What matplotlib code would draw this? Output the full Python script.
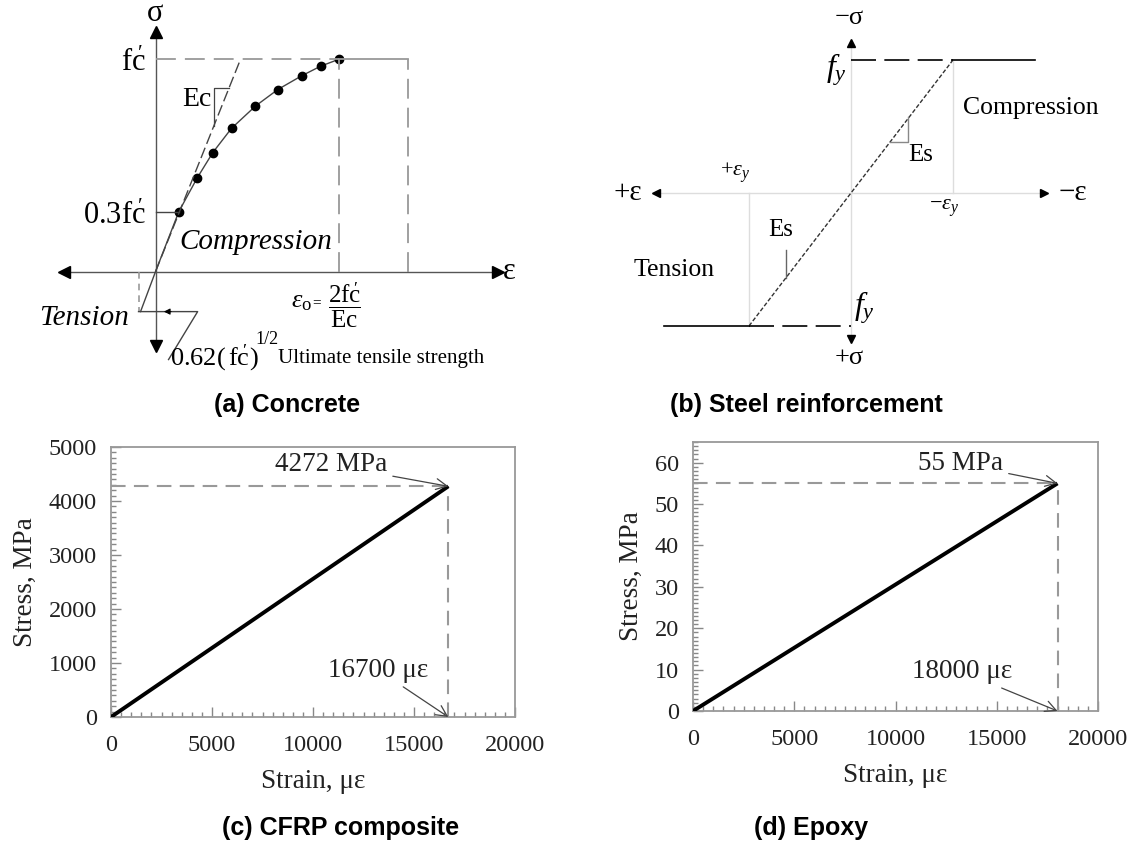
import matplotlib
matplotlib.use("Agg")
import matplotlib.pyplot as plt
from matplotlib.ticker import MultipleLocator

plt.rcParams['font.family'] = ['Liberation Serif', 'DejaVu Serif']
plt.rcParams['mathtext.fontset'] = 'custom'
plt.rcParams['mathtext.rm'] = 'Liberation Serif'
plt.rcParams['mathtext.it'] = 'Liberation Serif:italic'
plt.rcParams['mathtext.bf'] = 'Liberation Serif:bold'

# concrete curve, normalised by eps_o and f'c
conc_strain = [0.127, 0.228, 0.313, 0.415, 0.546, 0.668, 0.799, 0.902, 1.0]
conc_stress = [0.282, 0.442, 0.561, 0.675, 0.780, 0.858, 0.923, 0.968, 1.0]
conc_tension = (-0.082, -0.189)     # cracking point
conc_tangent = 0.464                # strain where Ec line reaches f'c
conc_ult = 1.377                    # ultimate strain

# steel, normalised by eps_y and fy (compression positive)
steel_strain = [-1.83, -1.0, 1.0, 1.80]
steel_stress = [-1.0, -1.0, 1.0, 1.0]

# CFRP and epoxy, linear to failure
cfrp_strain = [0, 16700]
cfrp_stress = [0, 4272]
epoxy_strain = [0, 18000]
epoxy_stress = [0, 55]

W, H = 1143, 846
fig = plt.figure(figsize=(W / 100, H / 100), dpi=100)


def box(x0, y0, x1, y1):
    return [x0 / W, 1 - y1 / H, (x1 - x0) / W, (y1 - y0) / H]


cap = dict(family='Liberation Sans', fontweight='bold', fontsize=18,
           ha='center', va='center')
gray = '#999999'
dark = '#444444'
FC = r"\mathrm{fc}^{\!\!\!\prime}"

# ---------------- (a) concrete ----------------
ax = fig.add_axes(box(0, 0, 560, 420))
ax.set_xlim(-0.85, 2.21)
ax.set_ylim(-0.70, 1.28)
ax.axis('off')

ax.plot([-0.50, 1.87], [0, 0], color='#555', lw=1)
ax.plot([0, 0], [-0.35, 1.13], color='#555', lw=1)
ax.plot(-0.50, 0, marker='<', color='k', ms=8)
ax.plot(1.87, 0, marker='>', color='k', ms=8)
ax.plot(0, 1.13, marker='^', color='k', ms=8)
ax.plot(0, -0.35, marker='v', color='k', ms=8)

ax.plot([conc_tension[0], 0] + conc_strain, [conc_tension[1], 0] + conc_stress,
        color=dark, lw=1)
ax.plot(conc_strain, conc_stress, 'o', color='k', ms=6)
ax.plot([0, conc_tangent], [0, 1], color=dark, lw=1, dashes=(8, 3))

ax.plot([0, 1], [1, 1], color=gray, lw=1.3, dashes=(11, 5))
ax.plot([1, conc_ult], [1, 1], color=gray, lw=1.3)
ax.plot([1, 1], [0, 1], color=gray, lw=1.3, dashes=(11, 5))
ax.plot([conc_ult, conc_ult], [0, 1], color=gray, lw=1.3, dashes=(11, 5))
ax.plot([0, conc_strain[0]], [conc_stress[0]] * 2, color=dark, lw=1)

# slope triangle for Ec
ty = 0.867
ax.plot([conc_tangent * ty, 0.319, 0.319], [ty, ty, 0.319 / conc_tangent],
        color=dark, lw=0.9)

# tension branch and leader to the tensile strength label
ax.plot([conc_tension[0] - 0.011] * 2, [0, conc_tension[1]], color=gray, lw=1.2,
        dashes=(4, 3))
ax.plot([conc_tension[0] - 0.011, 0.23, 0.071],
        [conc_tension[1], conc_tension[1], -0.415], color=dark, lw=1)
ax.annotate('', xy=(0.03, conc_tension[1]), xytext=(0.10, conc_tension[1]),
            arrowprops=dict(arrowstyle='-|>', color='k', lw=0.8, mutation_scale=9))

ax.text(0, 1.215, 'σ', ha='center', va='center', fontsize=22)
ax.text(1.935, 0.0, 'ε', ha='center', va='center', fontsize=22)
ax.text(-0.055, 0.98, f"${FC}$", ha='right', va='center', fontsize=22)
ax.text(-0.055, conc_stress[0] - 0.02, f"$0.3{FC}$", ha='right', va='center',
        fontsize=22)
ax.text(0.224, 0.81, 'Ec', ha='center', va='center', fontsize=20)
ax.text(0.546, 0.137, 'Compression', ha='center', va='center', fontsize=21,
        style='italic')
ax.text(-0.148, -0.217, 'Tension', ha='right', va='center', fontsize=21,
        style='italic')
ax.text(0.80, -0.145, r"$\varepsilon_{\mathrm{o}}$", ha='center', va='center',
        fontsize=19)
ax.text(0.88, -0.148, '=', ha='center', va='center', fontsize=11)
ax.text(1.035, -0.16, r"$\dfrac{2" + FC + r"}{\mathrm{Ec}}$",
        ha='center', va='center', fontsize=18)
ax.text(0.08, -0.41, f"$0.62(\\,{FC}\\,)$", ha='left', va='center', fontsize=19)
ax.text(0.61, -0.322, '1/2', ha='center', va='center', fontsize=13)
ax.text(0.667, -0.41, 'Ultimate tensile strength', ha='left', va='center',
        fontsize=15)
fig.text(287 / W, 1 - 405 / H, '(a) Concrete', **cap)

# ---------------- (b) steel reinforcement ----------------
bx = fig.add_axes(box(560, 0, 1143, 420))
bx.set_xlim(-2.853, 2.863)
bx.set_ylim(-1.707, 1.451)
bx.axis('off')

axis_c = '#dddddd'
bx.plot([-1.91, 1.89], [0, 0], color=axis_c, lw=1)
bx.plot([0, 0], [-1.10, 1.13], color=axis_c, lw=1)
bx.plot(-1.91, 0, marker='<', color='k', ms=6)
bx.plot(1.89, 0, marker='>', color='k', ms=6)
bx.plot(0, 1.13, marker='^', color='k', ms=6)
bx.plot(0, -1.10, marker='v', color='k', ms=6)
bx.plot([1, 1], [0, 1], color=axis_c, lw=1)
bx.plot([-1, -1], [-1, 0], color=axis_c, lw=1)

bx.plot(steel_strain[:2], steel_stress[:2], color='k', lw=1.2)
bx.plot(steel_strain[2:], steel_stress[2:], color='k', lw=1.2)
bx.plot(steel_strain[1:3], steel_stress[1:3], color='#333', lw=1, dashes=(3, 1.5))
bx.plot([0, steel_strain[2]], [steel_stress[2]] * 2, color='k', lw=1.2,
        dashes=(15, 5))
bx.plot([steel_strain[1], 0], [steel_stress[1]] * 2, color='k', lw=1.2,
        dashes=(15, 5))

# slope marks
bx.plot([0.38, 0.56, 0.56], [0.38, 0.38, 0.57], color='#888', lw=1)
bx.plot([-0.64, -0.64], [-0.64, -0.43], color='#666', lw=1)

bx.text(-2.19, 0, '+ε', ha='center', va='center', fontsize=21)
bx.text(2.18, 0, '−ε', ha='center', va='center', fontsize=21)
bx.text(-0.02, 1.316, '−σ', ha='center', va='center', fontsize=19)
bx.text(-0.02, -1.24, '+σ', ha='center', va='center', fontsize=19)
bx.text(-0.147, 0.93, r"$f_y$", ha='center', va='center', fontsize=23)
bx.text(0.127, -0.86, r"$f_y$", ha='center', va='center', fontsize=23)
bx.text(-1.137, 0.15, r"$+\varepsilon_y$", ha='center', va='center', fontsize=16)
bx.text(0.912, -0.113, r"$-\varepsilon_y$", ha='center', va='center', fontsize=16)
bx.text(0.686, 0.286, 'Es', ha='center', va='center', fontsize=18)
bx.text(-0.686, -0.278, 'Es', ha='center', va='center', fontsize=18)
bx.text(1.765, 0.64, 'Compression', ha='center', va='center', fontsize=18.5)
bx.text(-1.735, -0.58, 'Tension', ha='center', va='center', fontsize=18.5)
fig.text(806 / W, 1 - 405 / H, '(b) Steel reinforcement', **cap)


# ---------------- (c), (d) linear stress-strain ----------------
def linear_panel(pos, strain, stress, ymax, ymajor, yminor, labels, texts):
    a = fig.add_axes(pos)
    eps, sig = strain[-1], stress[-1]
    a.plot(strain, stress, color='k', lw=2.8, solid_capstyle='butt', zorder=3)
    a.plot([0, eps], [sig, sig], color=gray, lw=1.5, dashes=(7, 4))
    a.plot([eps, eps], [0, sig], color=gray, lw=1.5, dashes=(7, 4))
    a.set_xlim(0, 20000)
    a.set_ylim(0, ymax)
    a.xaxis.set_major_locator(MultipleLocator(5000))
    a.xaxis.set_minor_locator(MultipleLocator(500))
    a.yaxis.set_major_locator(MultipleLocator(ymajor))
    a.yaxis.set_minor_locator(MultipleLocator(yminor))
    a.tick_params(which='both', direction='in', color='#888', width=1,
                  labelsize=17.5, labelcolor='#222', pad=10)
    a.tick_params(axis='x', which='both', pad=13)
    a.tick_params(which='major', length=7)
    a.tick_params(which='minor', length=3.5)
    for s in a.spines.values():
        s.set_color('#999')
        s.set_linewidth(1.3)
    a.set_xlabel('Strain, με', fontsize=19.5, color='#222', labelpad=9)
    a.set_ylabel('Stress, MPa', fontsize=19.5, color='#222', labelpad=8)
    arrow = dict(arrowstyle='->', color=dark, lw=0.9, shrinkA=2, shrinkB=0)
    a.annotate(labels[0], xy=(eps, sig), xytext=texts[0], ha='center',
               va='center', fontsize=19.5, color='#222', arrowprops=arrow)
    a.annotate(labels[1], xy=(eps, 0), xytext=texts[1], ha='center',
               va='center', fontsize=19.5, color='#222', arrowprops=arrow)
    return a


linear_panel(box(111, 447, 515, 717), cfrp_strain, cfrp_stress, 5000, 1000, 100,
             ['4272 MPa', '16700 με'], [(10900, 4667), (13220, 870)])
fig.text(341 / W, 1 - 828 / H, '(c) CFRP composite', **cap)

linear_panel(box(693, 442, 1098, 711), epoxy_strain, epoxy_stress, 65, 10, 1,
             ['55 MPa', '18000 με'], [(13220, 59.7), (13280, 9.5)])
fig.text(811 / W, 1 - 828 / H, '(d) Epoxy', **cap)

fig.savefig('out.png', dpi=100, facecolor='white')
